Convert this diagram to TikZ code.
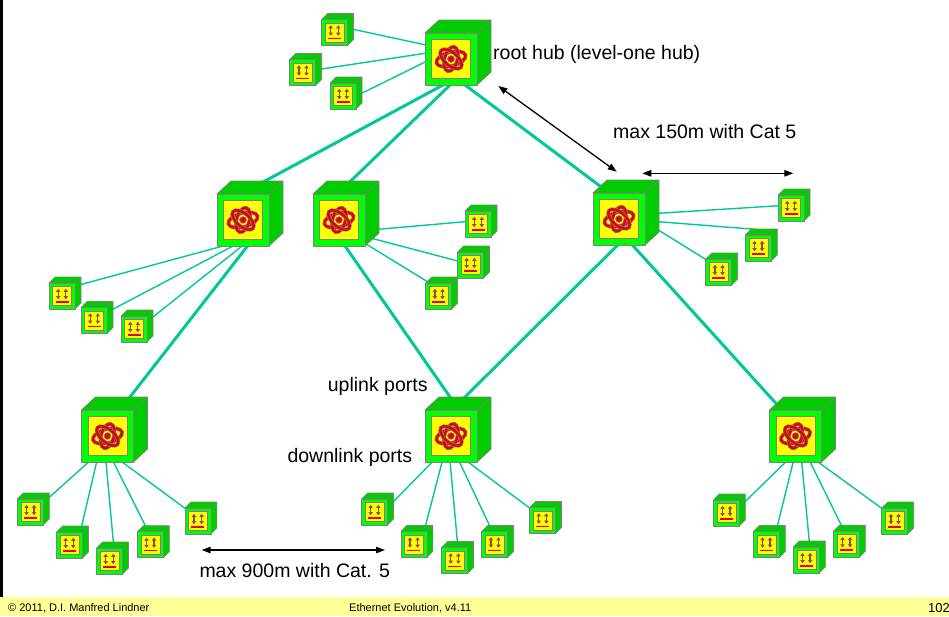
\documentclass[tikz,border=0pt]{standalone}
\usepackage{fontspec}
\setmainfont{Liberation Sans}
\usetikzlibrary{arrows.meta,calc}

\definecolor{frontgreen}{RGB}{0,255,0}
\definecolor{sidegreen}{RGB}{0,204,0}
\definecolor{edgegray}{RGB}{128,128,128}
\definecolor{panel}{RGB}{255,255,0}
\definecolor{cable}{RGB}{0,200,150}
\definecolor{ringred}{RGB}{230,0,0}
\definecolor{portarrow}{RGB}{150,70,90}
\definecolor{footband}{RGB}{255,255,153}

\pgfdeclarelayer{cables}
\pgfdeclarelayer{faces}
\pgfsetlayers{cables,faces,main}

\tikzset{
  % hub front panel with the ring symbol
  hubicon/.pic={
    \filldraw[draw=edgegray, fill=panel, line width=0.8pt] (-19.5,-19.5) rectangle (19.5,19.5);
    \foreach \a/\rx/\ry in {15/15/7, 75/12.5/6.5, -40/13/6.5}{
      \draw[edgegray, line width=3.8pt, rotate=\a] (0,0) ellipse [x radius=\rx pt, y radius=\ry pt];
      \draw[ringred, line width=2.4pt, rotate=\a] (0,0) ellipse [x radius=\rx pt, y radius=\ry pt];
    }
    \filldraw[draw=edgegray, fill=ringred, line width=0.6pt] (0,0) circle [radius=3.4pt];
  },
  % terminal front panel with the port symbol
  devicon/.pic={
    \filldraw[draw=edgegray, fill=panel, line width=0.6pt] (-9.5,-9.5) rectangle (9.5,9.5);
    \foreach \px in {-3.8,3.8}
      \draw[portarrow, line width=1.3pt, {Triangle[length=3pt,width=4.2pt]}-{Triangle[length=3pt,width=4.2pt]}] (\px,3.2) -- (\px,-7.2);
    \draw[ringred, line width=1.6pt] (-6.5,5.8) -- (6.5,5.8);
  },
  hubbox/.style={draw=edgegray, fill=frontgreen, line width=0.8pt, minimum size=52pt,
    inner sep=0pt, outer sep=0pt,
    path picture={\pic at (path picture bounding box.center) {hubicon};}},
  devbox/.style={draw=edgegray, fill=frontgreen, line width=0.6pt, minimum size=26pt,
    inner sep=0pt, outer sep=0pt,
    path picture={\pic at (path picture bounding box.center) {devicon};}},
  cablethin/.style={cable, line width=1.4pt, shorten <=-3pt, shorten >=-3pt},
  cablethick/.style={cable, line width=3pt, shorten <=-4pt, shorten >=-4pt},
  dimline/.style={black, line width=1.3pt,
    {Triangle[length=9pt,width=6.5pt]}-{Triangle[length=9pt,width=6.5pt]}},
  biglabel/.style={anchor=base west, inner sep=0pt, font=\fontsize{19.5}{23}\selectfont},
  footlabel/.style={anchor=base west, inner sep=0pt, font=\fontsize{11}{13}\selectfont}
}

\begin{document}
\begin{tikzpicture}[x=1pt, y=-1pt]
\useasboundingbox (0,0) rectangle (949,616);

% footer band and left rule
\fill[footband] (0,597) rectangle (949,616);
\fill[black] (0,0) rectangle (3,597);
\node[footlabel] (copy) at (8,611.5) {\textcopyright\ 2011, D.I. Manfred Lindner};
\node[footlabel] (title) at (349,611.5) {Ethernet Evolution, v4.11};
\node[footlabel, font=\fontsize{13}{15}\selectfont] (page) at (928,612) {102};

% hubs
\node[hubbox] (root) at (451,59) {};
\node[hubbox] (A) at (243,220) {};
\node[hubbox] (B) at (339,220) {};
\node[hubbox] (C) at (619,219) {};
\node[hubbox] (D) at (107.5,436) {};
\node[hubbox] (E) at (451,436) {};
\node[hubbox] (F) at (795.5,436) {};

% terminals
\foreach \n/\x/\y in {r1/334.5/32.5, r2/302.7/72.5, r3/343/96,
  a1/62/296, a2/94/320.5, a3/134/329,
  b1/478/224, b2/470.5/265, b3/438.7/296,
  c1/791/208, c2/758.3/248, c3/718.7/272,
  d1/30.3/512, d2/69.5/545, d3/109.5/561, d4/150.3/544.7, d5/197.8/521,
  e1/374.5/512, e2/413.8/544.5, e3/454.5/560.5, e4/494.7/544.5, e5/542.5/520.5,
  f1/726.3/513, f2/766.3/544.5, f3/806.3/560, f4/846.3/544.2, f5/894.7/521}
  \node[devbox] (\n) at (\x,\y) {};

% top and right faces of the boxes
\begin{pgfonlayer}{faces}
\foreach \n in {root,A,B,C,D,E,F}{
  \filldraw[draw=edgegray, fill=sidegreen, line width=0.8pt, line join=round]
    (\n.north west) -- ++(14,-13) -- ++(52,0) -- ++(0,52) -- (\n.south east) -- (\n.north east) -- cycle;
  \draw[edgegray, line width=0.8pt] (\n.north east) -- ++(14,-13);
}
\foreach \n in {r1,r2,r3,a1,a2,a3,b1,b2,b3,c1,c2,c3,d1,d2,d3,d4,d5,e1,e2,e3,e4,e5,f1,f2,f3,f4,f5}{
  \filldraw[draw=edgegray, fill=sidegreen, line width=0.6pt, line join=round]
    (\n.north west) -- ++(6,-6) -- ++(26,0) -- ++(0,26) -- (\n.south east) -- (\n.north east) -- cycle;
  \draw[edgegray, line width=0.6pt] (\n.north east) -- ++(6,-6);
}
\end{pgfonlayer}

% cabling
\begin{pgfonlayer}{cables}
\foreach \h/\hx/\hy/\d/\dx/\dy in {
  root/-25/-14/r1/18.5/-3.2, root/-26/-5.7/r2/19/-3.5, root/-25.3/2.7/r3/18.7/-2.7,
  A/-16.3/25/a1/19.7/-11.7, A/-8/25/a2/19.3/-11.5, A/0.3/25/a3/19.3/-12.3,
  B/39.3/9.3/b1/-13/-2.3, B/32.7/18.3/b2/-12.8/-4, B/30.3/26/b3/-7/-11.7,
  C/39.3/-5.7/c1/-12/-2.3, C/39.3/2.7/c2/-3.3/-18.7, C/39.3/11/c3/-12/-12,
  D/-18.5/25.7/d1/19/-14.7, D/-10.8/25.7/d2/12.2/-19, D/-1.5/25.7/d3/3.8/-19.3,
  D/5.8/25.7/d4/-5.3/-19.7, D/14.2/25.7/d5/-12.8/-12.7,
  E/-17.7/25/e1/18.8/-10.3, E/-8.7/25/e2/11.9/-19.5, E/-1/25/e3/2.8/-19.5,
  E/8/25/e4/-5.4/-19.5, E/15.7/25/e5/-12.5/-12.2,
  F/-9.5/25.7/f1/19.4/-12, F/-2.2/25.7/f2/11/-18.5, F/6.2/25.7/f3/3/-18.3,
  F/14.5/25.7/f4/-4.6/-18.2, F/22.2/25.7/f5/-13/-12.7}
  \draw[cablethin] ($(\h)+(\hx,\hy)$) -- ($(\d)+(\dx,\dy)$);

\foreach \p/\px/\py/\q/\qx/\qy in {
  root/-8/26/A/22/-39, root/-1/26/B/11.8/-39, root/14/26/C/-19/-33,
  A/5.3/25/D/22.5/-39, B/6/26/E/-1/-39, C/-2.3/27/E/14/-39, C/14.3/27/F/-19/-32}
  \draw[cablethick] ($(\p)+(\px,\py)$) -- ($(\q)+(\qx,\qy)$);
\end{pgfonlayer}

% distance markers
\coordinate (m1a) at (498.3,86);
\coordinate (m1b) at (616.7,171.7);
\coordinate (m2a) at (642.3,173.3);
\coordinate (m2b) at (793.3,173.3);
\coordinate (m3a) at (201.7,550);
\coordinate (m3b) at (385,550);
\draw[dimline] (m1a) -- (m1b);
\draw[dimline] (m2a) -- (m2b);
\draw[dimline] (m3a) -- (m3b);

% labels
\node[biglabel] (lroot) at (493,59) {root hub (level-one hub)};
\node[biglabel] (l150) at (613,138) {max 150m with Cat 5};
\node[biglabel] (lup) at (327.7,391) {uplink ports};
\node[biglabel] (ldown) at (287.3,462.5) {downlink ports};
\node[biglabel] (l900) at (199.3,577) {max 900m with Cat. 5};
\end{tikzpicture}
\end{document}
